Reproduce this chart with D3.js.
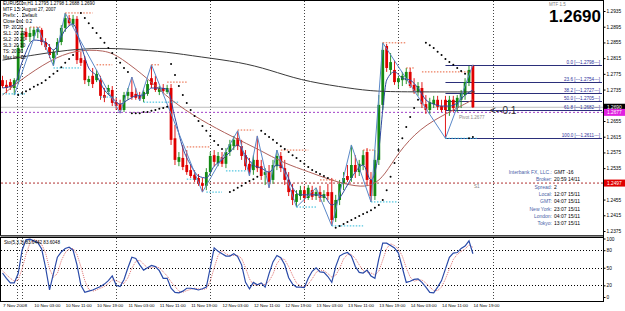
<!DOCTYPE html>
<html>
<head>
<meta charset="utf-8">
<script src="https://cdn.jsdelivr.net/npm/d3@7"></script>
<style>
body { margin: 0; background: #fff; }
svg { display: block; font-family: "Liberation Sans", Arial, sans-serif; }
</style>
</head>
<body>
<svg id="chart" width="625" height="311"></svg>
<script>
// EURUSDm H1 candles (bar 0 = 7 Nov, bar 120 = 14 Nov 19:00+)
const opens = [1.2759,1.2747,1.2754,1.2739,1.2759,1.2841,1.2882,1.2869,1.2871,1.2882,
  1.2887,1.2856,1.2843,1.2815,1.2831,1.2856,1.2892,1.2917,1.2902,1.2915,
  1.2815,1.2810,1.2754,1.2770,1.2759,1.2759,1.2721,1.2729,1.2734,1.2703,
  1.2698,1.2683,1.2719,1.2729,1.2724,1.2719,1.2711,1.2724,1.2764,1.2754,
  1.2729,1.2739,1.2729,1.2739,1.2611,1.2551,1.2561,1.2543,1.2530,1.2518,
  1.2510,1.2497,1.2490,1.2525,1.2568,1.2548,1.2563,1.2546,1.2576,1.2591,
  1.2611,1.2591,1.2568,1.2546,1.2530,1.2556,1.2540,1.2518,1.2525,1.2505,
  1.2540,1.2566,1.2535,1.2505,1.2479,1.2449,1.2464,1.2479,1.2459,1.2479,
  1.2464,1.2474,1.2459,1.2474,1.2474,1.2408,1.2454,1.2495,1.2515,1.2510,
  1.2543,1.2525,1.2543,1.2576,1.2505,1.2464,1.2556,1.2696,1.2846,1.2785,
  1.2785,1.2754,1.2759,1.2759,1.2780,1.2747,1.2729,1.2739,1.2698,1.2683,
  1.2698,1.2709,1.2693,1.2709,1.2683,1.2709,1.2688,1.2709,1.2721,1.2754,
  1.2795];
const highs = [1.2770,1.2759,1.2762,1.2764,1.2848,1.2892,1.2892,1.2894,1.2894,1.2894,
  1.2892,1.2866,1.2851,1.2836,1.2866,1.2899,1.2930,1.2925,1.2925,1.2922,
  1.2831,1.2820,1.2770,1.2790,1.2785,1.2770,1.2739,1.2747,1.2744,1.2714,
  1.2709,1.2729,1.2739,1.2767,1.2739,1.2729,1.2734,1.2759,1.2798,1.2770,
  1.2744,1.2749,1.2747,1.2749,1.2645,1.2576,1.2594,1.2581,1.2543,1.2530,
  1.2520,1.2510,1.2535,1.2576,1.2581,1.2576,1.2576,1.2586,1.2607,1.2617,
  1.2630,1.2607,1.2581,1.2561,1.2568,1.2617,1.2556,1.2535,1.2543,1.2556,
  1.2581,1.2576,1.2556,1.2525,1.2495,1.2479,1.2490,1.2490,1.2492,1.2490,
  1.2485,1.2490,1.2479,1.2495,1.2510,1.2467,1.2505,1.2525,1.2543,1.2594,
  1.2568,1.2556,1.2581,1.2586,1.2525,1.2581,1.2721,1.2854,1.2851,1.2828,
  1.2810,1.2770,1.2780,1.2790,1.2790,1.2764,1.2754,1.2754,1.2721,1.2714,
  1.2719,1.2719,1.2709,1.2719,1.2719,1.2719,1.2721,1.2734,1.2764,1.2795,
  1.2798];
const lows = [1.2739,1.2726,1.2734,1.2721,1.2749,1.2831,1.2861,1.2856,1.2861,1.2866,
  1.2848,1.2836,1.2815,1.2795,1.2823,1.2848,1.2882,1.2897,1.2894,1.2800,
  1.2795,1.2749,1.2744,1.2739,1.2754,1.2709,1.2703,1.2721,1.2693,1.2683,
  1.2675,1.2678,1.2709,1.2709,1.2709,1.2706,1.2703,1.2719,1.2739,1.2729,
  1.2721,1.2726,1.2724,1.2594,1.2543,1.2540,1.2530,1.2518,1.2510,1.2500,
  1.2490,1.2474,1.2479,1.2518,1.2540,1.2540,1.2538,1.2535,1.2566,1.2581,
  1.2581,1.2556,1.2530,1.2515,1.2518,1.2525,1.2505,1.2492,1.2485,1.2495,
  1.2530,1.2525,1.2492,1.2464,1.2441,1.2436,1.2454,1.2449,1.2454,1.2454,
  1.2454,1.2449,1.2449,1.2454,1.2388,1.2398,1.2441,1.2479,1.2500,1.2500,
  1.2510,1.2515,1.2530,1.2492,1.2449,1.2454,1.2543,1.2683,1.2780,1.2772,
  1.2747,1.2739,1.2744,1.2749,1.2739,1.2724,1.2719,1.2688,1.2673,1.2673,
  1.2688,1.2683,1.2678,1.2611,1.2668,1.2678,1.2678,1.2688,1.2709,1.2744,
  1.2688];
const closes = [1.2744,1.2739,1.2742,1.2759,1.2841,1.2879,1.2869,1.2879,1.2887,1.2889,
  1.2856,1.2843,1.2823,1.2831,1.2856,1.2892,1.2917,1.2904,1.2915,1.2810,
  1.2803,1.2759,1.2762,1.2749,1.2775,1.2719,1.2714,1.2739,1.2701,1.2693,
  1.2683,1.2721,1.2729,1.2716,1.2714,1.2711,1.2729,1.2749,1.2747,1.2734,
  1.2739,1.2731,1.2739,1.2607,1.2556,1.2563,1.2538,1.2525,1.2515,1.2505,
  1.2495,1.2490,1.2525,1.2566,1.2551,1.2566,1.2546,1.2576,1.2596,1.2607,
  1.2591,1.2566,1.2540,1.2525,1.2556,1.2535,1.2515,1.2525,1.2500,1.2543,
  1.2566,1.2535,1.2505,1.2474,1.2454,1.2469,1.2479,1.2459,1.2485,1.2462,
  1.2474,1.2459,1.2469,1.2464,1.2403,1.2454,1.2495,1.2510,1.2505,1.2543,
  1.2525,1.2546,1.2568,1.2505,1.2464,1.2556,1.2696,1.2836,1.2790,1.2805,
  1.2754,1.2764,1.2770,1.2780,1.2744,1.2731,1.2744,1.2698,1.2683,1.2703,
  1.2709,1.2691,1.2683,1.2683,1.2709,1.2688,1.2714,1.2724,1.2754,1.2785,
  1.2690];

// moving averages, read at a few points: [bar, price]
const slowMA = [[0,1.2810],[8,1.2823],[16.5,1.2836],[25,1.2841],[32.5,1.2838],[42,1.2831],[50.4,1.2818],
  [60.6,1.2805],[68.2,1.2785],[75.9,1.2759],[86.1,1.2742],[93.8,1.2731],[101.4,1.2729],[120.5,1.2729]];
const midMA = [[0,1.2721],[4.5,1.2759],[12.1,1.2810],[18.5,1.2836],[26.2,1.2836],[30,1.2818],[37.6,1.2759],
  [42.7,1.2709],[50.4,1.2658],[58.8,1.2614],[65.7,1.2581],[71.6,1.2548],[78.4,1.2525],[83.5,1.2505],
  [90.4,1.2487],[94.5,1.2490],[97.6,1.2518],[100.9,1.2574],[106.5,1.2637],[113.4,1.2675],[120,1.2709]];
const fastMA = [[0,1.2739],[3,1.2747],[5,1.2805],[8,1.2861],[11,1.2856],[13,1.2836],[16,1.2887],[18,1.2902],
  [20,1.2848],[22,1.2790],[24,1.2770],[26,1.2734],[28,1.2714],[30,1.2698],[32,1.2709],[34,1.2719],[36,1.2721],
  [38,1.2739],[40,1.2739],[42,1.2736],[44,1.2663],[46,1.2586],[48,1.2543],[50,1.2515],[52,1.2510],[54,1.2540],
  [56,1.2556],[58,1.2576],[60,1.2594],[62,1.2568],[64,1.2543],[66,1.2535],[68,1.2525],[70,1.2543],[72,1.2530],
  [74,1.2485],[76,1.2467],[78,1.2467],[80,1.2467],[82,1.2464],[84,1.2441],[86,1.2459],[88,1.2492],[90,1.2525],
  [92,1.2543],[94,1.2505],[96,1.2581],[97,1.2683],[98,1.2759],[100,1.2780],[102,1.2764],[104,1.2759],
  [106,1.2739],[108,1.2709],[110,1.2698],[112,1.2693],[114,1.2693],[116,1.2701],[118,1.2721],[120,1.2734]];
const zigzag = [[3,1.2721],[9,1.2894],[13,1.2795],[16,1.2930],[30,1.2675],[33,1.2767],[35,1.2706],[38,1.2798],
  [51,1.2474],[60,1.2630],[63,1.2515],[65,1.2617],[68,1.2485],[70,1.2581],[75,1.2436],[80,1.2485],
  [84,1.2388],[89,1.2594],[94,1.2449],[97,1.2854],[113,1.2611],[120,1.2798]];

// parabolic SAR dots [bar, price]
const sar = [[4,1.2721],[5,1.2726],[6,1.2731],[7,1.2736],[8,1.2742],[9,1.2747],[10,1.2752],[11,1.2759],
  [12,1.2767],[13,1.2775],[14,1.2782],[15,1.2792],[16,1.2803],[17,1.2813],[18,1.2823],
  [20,1.2930],[21,1.2917],[22,1.2904],[23,1.2892],[24,1.2879],[25,1.2866],[26,1.2854],[27,1.2841],
  [28,1.2828],[29,1.2815],[30,1.2803],[31,1.2790],[32,1.2780],
  [33,1.2675],[34,1.2675],[35,1.2675],[36,1.2678],[37,1.2678],[38,1.2681],[39,1.2683],[40,1.2686],
  [41,1.2688],[42,1.2691],
  [43,1.2800],[44,1.2772],[45,1.2744],[46,1.2721],[47,1.2701],[48,1.2683],[49,1.2668],[50,1.2655],
  [51,1.2642],[52,1.2630],[53,1.2617],[54,1.2604],[55,1.2594],[56,1.2584],
  [58,1.2474],[59,1.2479],[60,1.2485],[61,1.2490],[62,1.2497],[63,1.2502],[64,1.2507],[65,1.2513],
  [66,1.2630],[67,1.2622],[68,1.2614],[69,1.2607],[70,1.2599],[71,1.2591],[72,1.2584],[73,1.2576],
  [74,1.2568],[75,1.2561],[76,1.2553],[77,1.2546],[78,1.2538],[79,1.2530],[80,1.2525],[81,1.2520],
  [82,1.2515],[83,1.2510],
  [85,1.2383],[86,1.2388],[87,1.2393],[88,1.2398],[89,1.2403],[90,1.2408],[91,1.2413],[92,1.2418],
  [93,1.2423],[94,1.2428],[95,1.2434],[96,1.2441],[97,1.2454],[98,1.2479],[99,1.2513],[100,1.2548],
  [101,1.2581],[102,1.2611],[103,1.2640],[104,1.2665],[105,1.2688],[106,1.2709],
  [108,1.2854],[109,1.2848],[110,1.2841],[111,1.2831],[112,1.2823],[113,1.2813],[114,1.2805],
  [115,1.2798],[116,1.2790],[117,1.2782],[118,1.2775],
  [119,1.2611],[120,1.2614]];

// short fractal levels [from bar, to bar, price]
const upLevels = [[7,10,1.2894],[16,23,1.2930],[24,28,1.2798],[38,40,1.2798],[42,47,1.2754],[47,53,1.2589],
  [60,64,1.2632],[71,78,1.2581],[81,85,1.2505],[92,95,1.2581],[97,103,1.2854],[103,105,1.2790],[107,119,1.2780]];
const downLevels = [[0,6,1.2724],[13,20,1.2790],[25,29,1.2716],[36,45,1.2703],[47,50,1.2507],[52,56,1.2474],
  [57,62,1.2528],[75,80,1.2436],[84,92,1.2388],[94,101,1.2449],[113,121,1.2611]];

// fibonacci retracement
const fibLevels = ["0.0", "23.6", "38.2", "50.0", "61.8", "100.0"];
const fibPrices = [1.2798, 1.2754, 1.2727, 1.2705, 1.2682, 1.2611];
const fibStartBar = 113;

const bid = 1.2690, pivot = 1.2677, s1 = 1.2497;

// stochastic (5,3,3)
const stochK = [41,32,24,24,40,80,98,99,96,93, 82,50,12,40,68,77,83,85,80,55,
  20,8,10,12,15,18,22,28,36,20, 18,30,50,68,66,55,46,50,54,52,
  45,32,32,15,8,7,10,15,15,14, 12,14,17,50,84,78,74,70,70,74,
  69,55,25,14,25,21,24,17,40,60, 71,67,55,33,22,17,17,16,32,44,
  50,43,42,35,25,52,70,74,76,70, 52,42,41,46,36,32,65,92,92,88,
  84,75,50,25,27,30,31,25,17,8, 7,17,28,48,68,75,76,83,87,96,
  74];
const stochD = [45,38,32,27,29,48,73,92,98,96, 90,75,48,34,40,62,76,82,83,73,
  52,28,13,10,12,15,18,23,29,28, 25,23,33,49,61,63,56,50,50,52,
  50,43,36,26,18,10,8,11,13,15, 14,13,14,27,50,71,79,74,71,71,
  71,66,50,31,21,20,23,21,27,39, 57,66,64,52,37,24,19,17,22,31,
  42,46,45,40,34,37,49,65,73,73, 66,55,45,43,41,38,44,63,83,91,
  88,82,70,50,34,27,29,29,24,17, 11,11,17,31,48,64,73,78,82,89,
  85];
const stochLevels = [20, 50, 80];

const priceTicks = [1.2935,1.2895,1.2855,1.2815,1.2775,1.2735,1.2655,1.2615,1.2575,1.2535,1.2455,1.2415,1.2375];
const stochTicks = [0, 20, 50, 80, 100];
const timeBars = [0,8,16,24,32,40,48,56,64,72,80,88,96,104,112,120];
const timeLabels = ["7 Nov 2008","10 Nov 03:00","10 Nov 11:00","10 Nov 19:00","11 Nov 03:00","11 Nov 11:00",
  "11 Nov 19:00","12 Nov 03:00","12 Nov 11:00","12 Nov 19:00","13 Nov 03:00","13 Nov 11:00","13 Nov 19:00",
  "14 Nov 03:00","14 Nov 11:00","14 Nov 19:00"];
const daySeparators = [3.8, 5, 29, 53, 77, 101, 125];

const infoLines = ["EURUSDm,H1  1.2795 1.2798 1.2688 1.2690", "MTF 1.5: August 27, 2007", "Prefix: . . Default",
  "Close lots: 0.2", "TP:     20  20", "SL1:   20  30", "SL2:   20  20", "SL3:   20  30", "TS:     20  30", "Max lot: 10"];
const clockLabels = ["Interbank FX, LLC.:", "Broker:", "Spread:", "Local:", "GMT:", "New York:", "London:", "Tokyo:"];
const clockValues = ["GMT -16", "20:59  14/11", "2", "12:07  15/11", "04:07  15/11", "23:07  15/11", "04:07  15/11", "13:07  15/11"];

// ---------------------------------------------------------------
const svg = d3.select("#chart");
const plotR = 603, mainTop = 1, mainBot = 235, stoTop = 238, stoBot = 301;

const x = d3.scaleLinear().domain([0, 120]).range([2.5, 472.9]);
const y = d3.scaleLinear().domain([1.2375, 1.2935]).range([231, 11]);
const ys = d3.scaleLinear().domain([0, 100]).range([297, 238.5]);

svg.append("rect").attr("width", 625).attr("height", 311).attr("fill", "#fff");

const defs = svg.append("defs");
defs.append("clipPath").attr("id", "clipMain").append("rect")
  .attr("x", 1).attr("y", mainTop).attr("width", plotR - 1).attr("height", mainBot - mainTop);
defs.append("clipPath").attr("id", "clipSto").append("rect")
  .attr("x", 1).attr("y", stoTop).attr("width", plotR - 1).attr("height", stoBot - stoTop);

const main = svg.append("g").attr("clip-path", "url(#clipMain)");
const sto = svg.append("g").attr("clip-path", "url(#clipSto)");

// vertical day separators
[[main, mainTop, mainBot], [sto, stoTop, stoBot]].forEach(([g, t, b]) => {
  g.selectAll(null).data(daySeparators).enter().append("line")
    .attr("x1", d => Math.round(x(d)) + 0.5).attr("x2", d => Math.round(x(d)) + 0.5)
    .attr("y1", t).attr("y2", b)
    .attr("stroke", "#444").attr("stroke-width", 1).attr("stroke-dasharray", "1,2");
});

// horizontal reference lines
main.append("line").attr("x1", 1).attr("x2", plotR).attr("y1", y(bid)).attr("y2", y(bid))
  .attr("stroke", "#bdbdbd").attr("stroke-width", 1);
main.append("line").attr("x1", 1).attr("x2", plotR).attr("y1", y(pivot)).attr("y2", y(pivot))
  .attr("stroke", "#a040c8").attr("stroke-width", 1).attr("stroke-dasharray", "2,2");
main.append("line").attr("x1", 1).attr("x2", plotR).attr("y1", y(s1)).attr("y2", y(s1))
  .attr("stroke", "#b03030").attr("stroke-width", 1).attr("stroke-dasharray", "2,2");

// fibonacci lines
main.selectAll(null).data(fibPrices).enter().append("line")
  .attr("x1", x(fibStartBar)).attr("x2", plotR - 1)
  .attr("y1", d => Math.round(y(d)) + 0.5).attr("y2", d => Math.round(y(d)) + 0.5)
  .attr("stroke", "#2b2f7a").attr("stroke-width", 1);
main.selectAll(null).data(fibPrices).enter().append("text")
  .attr("x", 600).attr("y", d => Math.round(y(d)) - 1)
  .attr("text-anchor", "end").attr("font-size", 4.6).attr("fill", "#2b2f9a")
  .text((d, i) => fibLevels[i] + "    [---" + d.toFixed(4) + "---]");

// candles
const bars = d3.range(opens.length);
const candle = main.append("g").selectAll("g").data(bars).enter().append("g");
const col = i => closes[i] >= opens[i] ? "#138a13" : "#e00000";
candle.append("line")
  .attr("x1", i => x(i)).attr("x2", i => x(i))
  .attr("y1", i => y(highs[i])).attr("y2", i => y(lows[i]))
  .attr("stroke", col).attr("stroke-width", 0.9);
candle.append("rect")
  .attr("x", i => x(i) - 1.4).attr("width", 2.8)
  .attr("y", i => y(Math.max(opens[i], closes[i])))
  .attr("height", i => Math.max(0.8, Math.abs(y(opens[i]) - y(closes[i]))))
  .attr("fill", col);

// moving averages and zigzag
const line = d3.line().x(d => x(d[0])).y(d => y(d[1]));
main.append("path").attr("d", line.curve(d3.curveBasis)(slowMA))
  .attr("fill", "none").attr("stroke", "#3a3a3a").attr("stroke-width", 1);
main.append("path").attr("d", line.curve(d3.curveBasis)(midMA))
  .attr("fill", "none").attr("stroke", "#b0605a").attr("stroke-width", 1);
main.append("path").attr("d", line.curve(d3.curveMonotoneX)(fastMA))
  .attr("fill", "none").attr("stroke", "#3048a0").attr("stroke-width", 1);
main.append("path").attr("d", line.curve(d3.curveLinear)(zigzag))
  .attr("fill", "none").attr("stroke", "#5a88c8").attr("stroke-width", 1);

// fractal levels
main.selectAll(null).data(upLevels).enter().append("line")
  .attr("x1", d => x(d[0])).attr("x2", d => x(d[1]))
  .attr("y1", d => y(d[2])).attr("y2", d => y(d[2]))
  .attr("stroke", "#e8603a").attr("stroke-width", 1).attr("stroke-dasharray", "1.5,1.5");
main.selectAll(null).data(downLevels).enter().append("line")
  .attr("x1", d => x(d[0])).attr("x2", d => x(d[1]))
  .attr("y1", d => y(d[2])).attr("y2", d => y(d[2]))
  .attr("stroke", "#2ab8d8").attr("stroke-width", 1).attr("stroke-dasharray", "1.5,1.5");

// SAR
main.selectAll(null).data(sar).enter().append("circle")
  .attr("cx", d => x(d[0])).attr("cy", d => y(d[1])).attr("r", 1).attr("fill", "#000");

// chart texts
const info = svg.append("g").attr("font-size", 4.6).attr("fill", "#000");
info.selectAll(null).data(infoLines).enter().append("text")
  .attr("x", 3).attr("y", (d, i) => 5 + i * 6).text(d => d);

svg.append("text").attr("x", 601).attr("y", 22).attr("text-anchor", "end")
  .attr("font-size", 17).attr("font-weight", "bold").attr("fill", "#000").text("1.2690");
svg.append("text").attr("x", 549).attr("y", 6).attr("font-size", 4.5).attr("fill", "#808080").text("MTF 1.5");

svg.append("text").attr("x", 490).attr("y", 114).attr("font-size", 10).attr("fill", "#333").text("<--0.1");
svg.append("text").attr("x", 459).attr("y", 118.5).attr("font-size", 4.6).attr("fill", "#888").text("Pivot 1.2677");
svg.append("text").attr("x", 474).attr("y", 187.5).attr("font-size", 4.6).attr("fill", "#888").text("S1");

const clock = svg.append("g").attr("font-size", 5);
clock.selectAll(null).data(clockLabels).enter().append("text")
  .attr("x", 552).attr("y", (d, i) => 174 + i * 7.3).attr("text-anchor", "end")
  .attr("fill", "#4a64a8").text(d => d);
clock.selectAll(null).data(clockValues).enter().append("text")
  .attr("x", 554).attr("y", (d, i) => 174 + i * 7.3).attr("fill", "#000").text(d => d);

// stochastic
sto.selectAll(null).data(stochLevels).enter().append("line")
  .attr("x1", 1).attr("x2", plotR).attr("y1", d => Math.round(ys(d)) + 0.5).attr("y2", d => Math.round(ys(d)) + 0.5)
  .attr("stroke", "#000").attr("stroke-width", 1).attr("stroke-dasharray", "1,2");
const sline = d3.line().x((d, i) => x(i)).y(d => ys(d));
sto.append("path").attr("d", sline(stochD)).attr("fill", "none")
  .attr("stroke", "#e07070").attr("stroke-width", 1).attr("stroke-dasharray", "1,1");
sto.append("path").attr("d", sline(stochK)).attr("fill", "none")
  .attr("stroke", "#2a4aa8").attr("stroke-width", 1.2);
svg.append("text").attr("x", 4).attr("y", 244).attr("font-size", 4.6).attr("fill", "#000")
  .text("Sto(5,3,3) 83.6442 83.6048");

// frames
svg.append("rect").attr("x", 0.5).attr("y", 0.5).attr("width", plotR).attr("height", mainBot)
  .attr("fill", "none").attr("stroke", "#000");
svg.append("rect").attr("x", 0.5).attr("y", mainBot + 0.5).attr("width", plotR).attr("height", 2)
  .attr("fill", "#888").attr("stroke", "none");
svg.append("rect").attr("x", 0.5).attr("y", stoTop - 0.5).attr("width", plotR).attr("height", stoBot - stoTop + 1)
  .attr("fill", "none").attr("stroke", "#000");

// axes
const yAxis = svg.append("g").attr("transform", `translate(${plotR + 0.5},0)`)
  .call(d3.axisRight(y).tickValues(priceTicks).tickSize(2).tickPadding(1).tickFormat(d3.format(".4f")));
const sAxis = svg.append("g").attr("transform", `translate(${plotR + 0.5},0)`)
  .call(d3.axisRight(ys).tickValues(stochTicks).tickSize(2).tickPadding(1));
const xAxis = svg.append("g").attr("transform", `translate(0,${stoBot + 1})`)
  .call(d3.axisBottom(x).tickValues(timeBars).tickSize(0).tickPadding(2)
    .tickFormat((d, i) => timeLabels[i]));
[yAxis, sAxis, xAxis].forEach(a => {
  a.select(".domain").remove();
  a.selectAll("text").attr("font-size", 4.8).attr("font-family", "Liberation Sans, Arial, sans-serif").attr("fill", "#000");
  a.selectAll("line").attr("stroke", "#000");
});
xAxis.selectAll("text").attr("text-anchor", "start").attr("font-size", 4.2)
  .attr("textLength", (d, i) => i === 0 ? 24 : 26).attr("lengthAdjust", "spacingAndGlyphs");

// price axis markers
const markers = [[bid, "#000", "#fff"], [pivot, "#e020e0", "#fff"], [s1, "#e00000", "#fff"]];
const mk = svg.append("g").selectAll("g").data(markers).enter().append("g")
  .attr("transform", d => `translate(${plotR + 1},${y(d[0])})`);
mk.append("rect").attr("x", 0).attr("y", -3.5).attr("width", 21).attr("height", 7).attr("fill", d => d[1]);
mk.append("text").attr("x", 3).attr("y", 1.8).attr("font-size", 4.8).attr("fill", d => d[2]).text(d => d[0].toFixed(4));

svg.append("line").attr("x1", plotR + 0.5).attr("x2", plotR + 0.5).attr("y1", 0).attr("y2", stoBot + 1)
  .attr("stroke", "#000");
</script>
</body>
</html>
